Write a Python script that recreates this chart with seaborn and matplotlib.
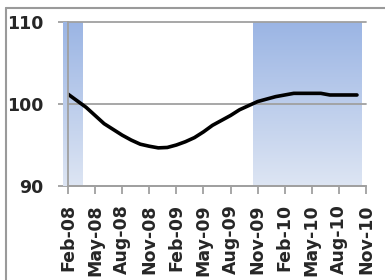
import numpy as np
import pandas as pd
import matplotlib
matplotlib.use("Agg")
import matplotlib.pyplot as plt
import seaborn as sns
from matplotlib.colors import LinearSegmentedColormap
from matplotlib.lines import Line2D

# Data: months since Feb-08 (Feb-08 .. Oct-10)
months = list(range(33))
values = [101.2, 100.4, 99.6, 98.6, 97.6, 96.9, 96.2, 95.6, 95.1, 94.85,
          94.65, 94.7, 95.0, 95.4, 95.9, 96.6, 97.4, 98.0, 98.6, 99.3,
          99.8, 100.3, 100.6, 100.9, 101.1, 101.3, 101.3, 101.3, 101.3, 101.1,
          101.1, 101.1, 101.1]
shaded_months = [0, 1] + list(range(21, 33))
tick_months = [0, 3, 6, 9, 12, 15, 18, 21, 24, 27, 30, 33]
tick_labels = ["Feb-08", "May-08", "Aug-08", "Nov-08", "Feb-09", "May-09",
               "Aug-09", "Nov-09", "Feb-10", "May-10", "Aug-10", "Nov-10"]
y_ticks = [90, 100, 110]

sns.set_style("white")
plt.rcParams['font.family'] = ['DejaVu Sans']

fig = plt.figure(figsize=(3.85, 2.8), dpi=100)
ax = fig.add_axes([68/385, 1-186/280, (366-68)/385, (186-22)/280])

ymin, ymax = 90, 110
ax.set_xlim(0, 33)
ax.set_ylim(ymin, ymax)

# gradient bars
cmap = LinearSegmentedColormap.from_list("g", ["#dde5f3", "#9bb5e4"])
grad = np.linspace(0, 1, 256).reshape(-1, 1)
bars = ax.bar(shaded_months, [ymax - ymin] * len(shaded_months), bottom=ymin,
              width=1.0, color="none", edgecolor="none", zorder=1)
for b in bars:
    x0 = b.get_x()
    im = ax.imshow(grad, extent=[x0, x0 + b.get_width(), ymin, ymax],
                   origin="lower", aspect="auto", cmap=cmap, zorder=1,
                   interpolation="bicubic")
    im.set_clip_path(b)
ax.set_xlim(0, 33)
ax.set_ylim(ymin, ymax)

# gridlines
for yv in y_ticks:
    ax.axhline(yv, color="#a0a0a0", lw=1.3, zorder=2, clip_on=False)

df = pd.DataFrame({"m": months, "v": values})
sns.lineplot(data=df, x="m", y="v", ax=ax, color="black", lw=2.6, zorder=3)

ax.set_xlabel("")
ax.set_ylabel("")
ax.set_yticks(y_ticks)
ax.set_yticklabels([str(v) for v in y_ticks], fontsize=12.5, fontweight="bold")
ax.set_xticks(tick_months)
ax.set_xticklabels(tick_labels, rotation=90, fontsize=12.5, fontweight="bold")
ax.tick_params(axis="y", length=7, width=1.3, color="#a0a0a0", pad=10.5, left=True)
ax.tick_params(axis="x", length=6, width=1.3, color="#a0a0a0", pad=7, bottom=True)
for s in ["top", "right"]:
    ax.spines[s].set_visible(False)
ax.spines["left"].set_color("#a0a0a0")
ax.spines["left"].set_linewidth(1.3)
ax.spines["bottom"].set_color("#a0a0a0")
ax.spines["bottom"].set_linewidth(1.3)
ax.spines["left"].set_zorder(4)

# outer chart frame (top and left edges visible)
fig.add_artist(Line2D([6/385, 1], [1-7.5/280, 1-7.5/280], color="#9a9a9a", lw=1.5))
fig.add_artist(Line2D([6/385, 6/385], [0, 1-7.5/280], color="#9a9a9a", lw=1.5))

fig.savefig("out.png", dpi=100)
